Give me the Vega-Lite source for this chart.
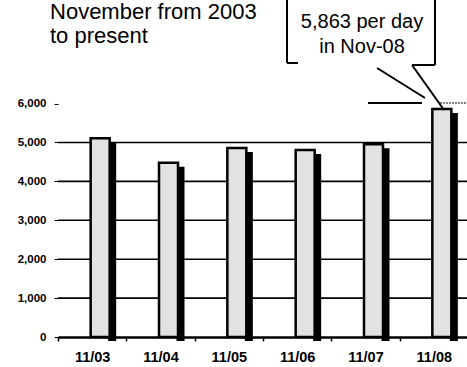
{
  "$schema": "https://vega.github.io/schema/vega-lite/v6.json",
  "width": 410,
  "height": 337,
  "autosize": {"type": "none"},
  "padding": {"left": 58, "top": 0, "right": 0, "bottom": 30},
  "background": "white",
  "config": {
    "view": {"stroke": null},
    "font": "Liberation Sans",
    "axisX": {
      "domainColor": "black", "domainWidth": 2.5, "tickColor": "black", "tickWidth": 1.5, "tickSize": 4,
      "tickBand": "extent", "labelFont": "Liberation Sans", "labelFontWeight": "bold", "labelFontSize": 14.5,
      "labelColor": "black", "labelPadding": 9, "labelAngle": 0, "title": null, "grid": false
    },
    "axisY": {
      "domain": false, "tickColor": "black", "tickWidth": 1, "tickSize": 4, "labelFont": "Liberation Sans",
      "labelFontWeight": "bold", "labelFontSize": 11.5, "labelColor": "black", "labelPadding": 8, "grid": false
    }
  },
  "datasets": {
    "counts": [
      {"month": "11/03", "perDay": 5108},
      {"month": "11/04", "perDay": 4480},
      {"month": "11/05", "perDay": 4858},
      {"month": "11/06", "perDay": 4807},
      {"month": "11/07", "perDay": 4953},
      {"month": "11/08", "perDay": 5863}
    ],
    "grid": [{"level": 1000}, {"level": 2000}, {"level": 3000}, {"level": 4000}, {"level": 5000}],
    "heading": [{"u": -0.117, "v": 8175, "label": "November from 2003\nto present"}],
    "note": [{"u": 4.449, "v": 7943, "label": "5,863 per day\nin Nov-08"}],
    "callout": [
      {"u": 3.351, "u2": 3.351, "v": 8791, "v2": 7044},
      {"u": 3.351, "u2": 3.512, "v": 7044, "v2": 7044},
      {"u": 5.517, "u2": 5.517, "v": 8791, "v2": 6992},
      {"u": 5.517, "u2": 5.181, "v": 6992, "v2": 6992},
      {"u": 5.181, "u2": 5.649, "v": 6992, "v2": 5835},
      {"u": 4.669, "u2": 5.371, "v": 6915, "v2": 6144},
      {"u": 4.537, "u2": 5.327, "v": 6015, "v2": 6015}
    ],
    "dotted": [{"u": 5.59, "u2": 5.985, "v": 6015, "v2": 6015}]
  },
  "layer": [
    {
      "layer": [
        {
          "data": {"name": "grid"},
          "mark": {"type": "rule", "color": "black", "strokeWidth": 1.6},
          "encoding": {
            "y": {"field": "level", "type": "quantitative", "title": null,
                  "scale": {"domain": [0, 8663], "nice": false, "zero": true},
                  "axis": {"values": [0, 1000, 2000, 3000, 4000, 5000, 6000], "labelExpr": "format(datum.value, ',')", "title": null}}
          }
        },
        {
          "data": {"name": "counts"},
          "mark": {"type": "bar", "color": "black", "width": 8, "xOffset": 20, "yOffset": 4},
          "encoding": {
            "x": {"field": "month", "type": "nominal", "sort": null, "title": null,
                  "scale": {"paddingInner": 0, "paddingOuter": 0}},
            "y": {"field": "perDay", "type": "quantitative", "title": null,
                  "axis": {"values": [0, 1000, 2000, 3000, 4000, 5000, 6000], "labelExpr": "format(datum.value, ',')", "title": null}}
          }
        },
        {
          "data": {"name": "counts"},
          "mark": {"type": "bar", "fill": "#e2e2e2", "stroke": "black", "strokeWidth": 2.5, "width": 19, "xOffset": 8},
          "encoding": {
            "x": {"field": "month", "type": "nominal", "sort": null, "title": null},
            "y": {"field": "perDay", "type": "quantitative", "title": null,
                  "axis": {"values": [0, 1000, 2000, 3000, 4000, 5000, 6000], "labelExpr": "format(datum.value, ',')", "title": null}}
          }
        }
      ]
    },
    {
      "layer": [
        {
          "data": {"name": "callout"},
          "mark": {"type": "rule", "color": "black", "strokeWidth": 2},
          "encoding": {
            "x": {"field": "u", "type": "quantitative", "axis": null, "scale": {"domain": [0, 6], "nice": false, "zero": false}},
            "x2": {"field": "u2"},
            "y": {"field": "v", "type": "quantitative", "title": null,
                  "axis": {"values": [0, 1000, 2000, 3000, 4000, 5000, 6000], "labelExpr": "format(datum.value, ',')", "title": null}},
            "y2": {"field": "v2"}
          }
        },
        {
          "data": {"name": "dotted"},
          "mark": {"type": "rule", "color": "black", "strokeWidth": 1.2, "strokeDash": [2, 1]},
          "encoding": {
            "x": {"field": "u", "type": "quantitative", "axis": null},
            "x2": {"field": "u2"},
            "y": {"field": "v", "type": "quantitative", "title": null,
                  "axis": {"values": [0, 1000, 2000, 3000, 4000, 5000, 6000], "labelExpr": "format(datum.value, ',')", "title": null}},
            "y2": {"field": "v2"}
          }
        },
        {
          "data": {"name": "heading"},
          "mark": {"type": "text", "align": "left", "baseline": "alphabetic", "fontSize": 22, "lineHeight": 24, "lineBreak": "\n", "color": "black", "font": "Liberation Sans"},
          "encoding": {
            "x": {"field": "u", "type": "quantitative", "axis": null},
            "y": {"field": "v", "type": "quantitative", "title": null,
                  "axis": {"values": [0, 1000, 2000, 3000, 4000, 5000, 6000], "labelExpr": "format(datum.value, ',')", "title": null}},
            "text": {"field": "label"}
          }
        },
        {
          "data": {"name": "note"},
          "mark": {"type": "text", "align": "center", "baseline": "alphabetic", "fontSize": 20, "lineHeight": 25, "lineBreak": "\n", "color": "black", "font": "Liberation Sans"},
          "encoding": {
            "x": {"field": "u", "type": "quantitative", "axis": null},
            "y": {"field": "v", "type": "quantitative", "title": null,
                  "axis": {"values": [0, 1000, 2000, 3000, 4000, 5000, 6000], "labelExpr": "format(datum.value, ',')", "title": null}},
            "text": {"field": "label"}
          }
        }
      ]
    }
  ],
  "resolve": {"scale": {"x": "independent"}}
}
